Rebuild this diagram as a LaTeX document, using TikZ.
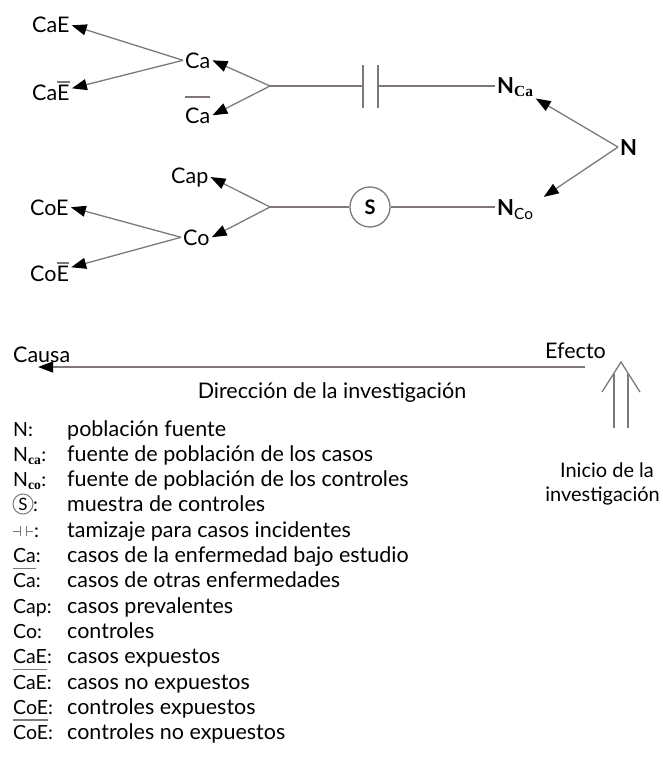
\documentclass[tikz,border=0pt]{standalone}
\usepackage{fontspec}
\setmainfont{Lato}
\newfontfamily\subserif{Liberation Serif}
\usepackage{xcolor}
\usetikzlibrary{arrows.meta,positioning}

\definecolor{linegray}{RGB}{128,120,120}

% overline that does not change the node height
\newsavebox\ovlbox
\newcommand\ovl[2][0.95em]{\sbox\ovlbox{#2}\rlap{\smash{\textcolor{linegray}{\rule[#1]{\wd\ovlbox}{0.09em}}}}\usebox\ovlbox}

\begin{document}
\begin{tikzpicture}[x=1pt, y=-1pt,
    lbl/.style={anchor=base west, inner sep=2pt, font=\fontsize{21.5}{24}\selectfont},
    bold/.style={font=\fontsize{22}{24}\selectfont\bfseries},
    lg/.style={anchor=base west, inner sep=0pt, font=\fontsize{21.5}{24}\selectfont},
    key/.style={lg, font=\fontsize{19.5}{22}\selectfont},
    link/.style={draw=linegray, line width=1.3pt},
    arrow/.style={link, -{Triangle[length=15pt,width=11pt,black]}}
]
    \useasboundingbox (0,0) rectangle (662,760);

    % cases branch
    \node[lbl] (cae) at (30,33) {CaE};
    \node[lbl] (caebar) at (30,100) {Ca\ovl[0.8em]{E}};
    \node[lbl] (ca) at (183,68) {Ca};
    \node[lbl] (cabar) at (183,123) {\ovl[1.15em]{Ca}};
    \node[lbl, bold] (nca) at (495,93) {N\textsubscript{\subserif Ca}};
    \node[lbl, bold] (n) at (618,155) {N};

    % controls branch
    \node[lbl] (cap) at (169,183) {Cap};
    \node[lbl] (coe) at (28,215) {CoE};
    \node[lbl] (co) at (181,245) {Co};
    \node[lbl] (coebar) at (28,281) {Co\ovl[0.8em]{E}};
    \node[lbl, bold] (nco) at (495,215) {N\textsubscript{\mdseries Co}};
    \node[circle, draw=linegray, line width=1.3pt, minimum size=40pt, inner sep=0pt,
          font=\fontsize{20}{22}\selectfont\bfseries] (smp) at (370,207) {S};

    \coordinate (brA) at (270,86);
    \coordinate (brB) at (270,207);
    \coordinate (capL) at (363,86);
    \coordinate (capR) at (378,86);

    \draw[link] (brA) -- (capL);
    \draw[link] ([yshift=21pt]capL) -- ([yshift=-22pt]capL);
    \draw[link] ([yshift=21pt]capR) -- ([yshift=-22pt]capR);
    \draw[link] (capR) -- (capR -| nca.west);
    \draw[link] (brB) -- (smp);
    \draw[link] (smp.east) -- (smp.east -| nco.west);

    \draw[arrow] (brA) -- (ca.east);
    \draw[arrow] (brA) -- (cabar.east);
    \draw[arrow] (ca.west) -- (cae.east);
    \draw[arrow] (ca.west) -- ([yshift=4pt]caebar.east);
    \draw[arrow] (n.west) -- (nca.south east);
    \draw[arrow] (n.west) -- ([xshift=8pt]nco.north east);
    \draw[arrow] (brB) -- (cap.east);
    \draw[arrow] (brB) -- (co.east);
    \draw[arrow] (co.west) -- (coe.east);
    \draw[arrow] (co.west) -- ([yshift=6pt]coebar.east);

    % direction of the study
    \node[lbl] (causa) at (11,362) {Causa};
    \node[lbl] (efecto) at (543,358) {Efecto};
    \coordinate (dirR) at (585,367);
    \coordinate (dirL) at (38,367);
    \draw[arrow] (dirR) -- (dirL);
    \node[lbl, anchor=base] (dir) at (332,398) {Dirección de la investigación};

    \node[lbl, anchor=base, font=\fontsize{20}{22}\selectfont] (inicio) at (607,477) {Inicio de la};
    \node[lbl, anchor=base east, font=\fontsize{20}{22}\selectfont] (inicioB) at (662,501) {investigación};
    \coordinate (shL0) at (614,428);
    \coordinate (shL1) at (614,374);
    \coordinate (shR0) at (628,428);
    \coordinate (shR1) at (628,374);
    \coordinate (upTip) at (621,362);
    \coordinate (wingL) at (602,392);
    \coordinate (wingR) at (640,392);
    \draw[link] (shL0) -- (shL1);
    \draw[link] (shR0) -- (shR1);
    \draw[link] (wingL) -- (upTip) -- (wingR);

    % legend
    \node[key] (kN) at (13,436) {N:};
    \node[lg] (dN) at (67,436) {población fuente};
    \node[key] (kNca) at (13,461.3) {N\textsubscript{\subserif\bfseries ca}:};
    \node[lg] (dNca) at (67,461.3) {fuente de población de los casos};
    \node[key] (kNco) at (13,486.6) {N\textsubscript{\subserif\bfseries co}:};
    \node[lg] (dNco) at (67,486.6) {fuente de población de los controles};
    \node[circle, draw=linegray, line width=1pt, minimum size=20pt, inner sep=0pt,
          font=\fontsize{17}{18}\selectfont] (kS) at (23,504) {S};
    \node[key] (kSc) at (33,511.9) {:};
    \node[lg] (dS) at (67,511.9) {muestra de controles};
    \coordinate (kT1) at (13,531);
    \coordinate (kT2) at (20,531);
    \coordinate (kT3) at (26,531);
    \coordinate (kT4) at (33,531);
    \draw[link, line width=1pt] (kT1) -- (kT2) ([yshift=5pt]kT2) -- ([yshift=-5pt]kT2)
        ([yshift=5pt]kT3) -- ([yshift=-5pt]kT3) (kT3) -- (kT4);
    \node[key] (kTc) at (34,537.2) {:};
    \node[lg] (dT) at (67,537.2) {tamizaje para casos incidentes};
    \node[key] (kCa) at (13,562.5) {Ca:};
    \node[lg] (dCa) at (67,562.5) {casos de la enfermedad bajo estudio};
    \node[key] (kCab) at (13,587.8) {\ovl{Ca}:};
    \node[lg] (dCab) at (67,587.8) {casos de otras enfermedades};
    \node[key] (kCap) at (13,613.1) {Cap:};
    \node[lg] (dCap) at (67,613.1) {casos prevalentes};
    \node[key] (kCo) at (13,638.4) {Co:};
    \node[lg] (dCo) at (67,638.4) {controles};
    \node[key] (kCaE) at (13,663.7) {CaE:};
    \node[lg] (dCaE) at (67,663.7) {casos expuestos};
    \node[key] (kCaEb) at (13,689) {\ovl{CaE}:};
    \node[lg] (dCaEb) at (67,689) {casos no expuestos};
    \node[key] (kCoE) at (13,714.3) {CoE:};
    \node[lg] (dCoE) at (67,714.3) {controles expuestos};
    \node[key] (kCoEb) at (13,739.6) {\ovl{CoE}:};
    \node[lg] (dCoEb) at (67,739.6) {controles no expuestos};
\end{tikzpicture}
\end{document}
